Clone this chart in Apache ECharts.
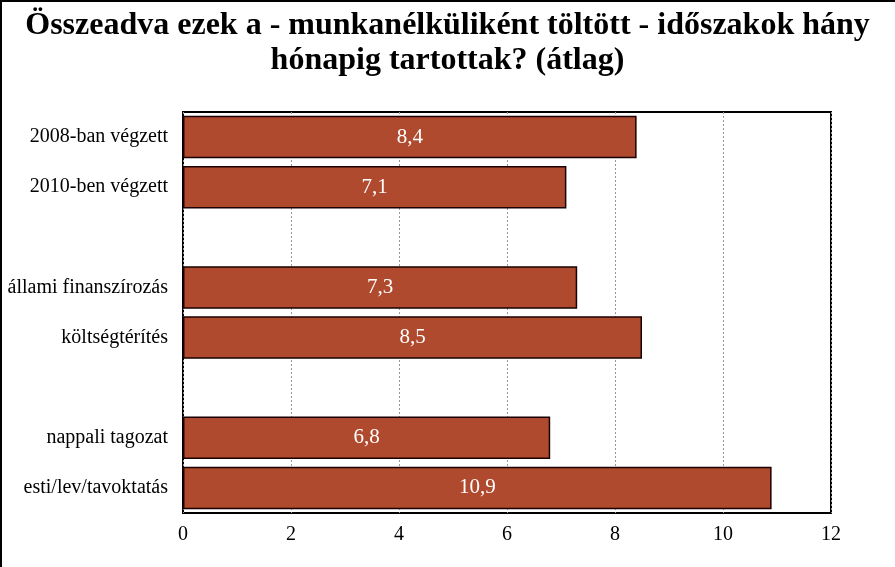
<!DOCTYPE html>
<html>
<head>
<meta charset="utf-8">
<script src="https://cdn.jsdelivr.net/npm/echarts@6/dist/echarts.min.js"></script>
<style>html,body{margin:0;padding:0;background:#fff;}#c{width:895px;height:567px;}</style>
</head>
<body>
<div id="c"></div>
<script>
const categories = ['2008-ban végzett', '2010-ben végzett', '', 'állami finanszírozás', 'költségtérítés', '', 'nappali tagozat', 'esti/lev/tavoktatás'];
const values = [8.4, 7.1, null, 7.3, 8.5, null, 6.8, 10.9];
const xTicks = [0, 2, 4, 6, 8, 10, 12];
const titleText = 'Összeadva ezek a - munkanélküliként töltött - időszakok hány\nhónapig tartottak? (átlag)';

const chart = echarts.init(document.getElementById('c'));
chart.setOption({
  animation: false,
  backgroundColor: '#fff',
  title: {
    text: titleText,
    left: 'center',
    top: 3,
    textStyle: { fontFamily: 'Liberation Serif', fontWeight: 'bold', fontSize: 32, lineHeight: 35, color: '#000' }
  },
  graphic: [
    { type: 'line', shape: { x1: 1, y1: 0, x2: 1, y2: 567 }, style: { stroke: '#000', lineWidth: 2 } },
    { type: 'line', shape: { x1: 0, y1: 1, x2: 895, y2: 1 }, style: { stroke: '#000', lineWidth: 2 } }
  ],
  grid: { left: 183, right: 64, top: 112, bottom: 54, show: true, borderColor: '#000', borderWidth: 2, backgroundColor: 'transparent' },
  xAxis: {
    type: 'value', min: 0, max: 12, interval: 2,
    axisLine: { show: false },
    axisTick: { show: false },
    axisLabel: { color: '#000', fontFamily: 'Liberation Serif', fontSize: 20, margin: 12, formatter: v => xTicks.includes(v) ? String(v) : '' },
    splitLine: { show: true, lineStyle: { color: '#999', type: [2, 2], width: 1 } }
  },
  yAxis: {
    type: 'category', data: categories, inverse: true,
    axisLine: { show: false },
    axisTick: { show: false },
    axisLabel: { color: '#000', fontFamily: 'Liberation Serif', fontSize: 20, margin: 15 }
  },
  series: [{
    type: 'bar',
    data: values,
    barCategoryGap: '15%',
    itemStyle: { color: '#B04A2E', borderColor: '#1a0000', borderWidth: 1.5 },
    label: {
      show: true, position: 'inside', color: '#fff',
      fontFamily: 'Liberation Serif', fontSize: 21,
      formatter: p => p.value == null ? '' : String(p.value).replace('.', ',')
    }
  }]
});
</script>
</body>
</html>
